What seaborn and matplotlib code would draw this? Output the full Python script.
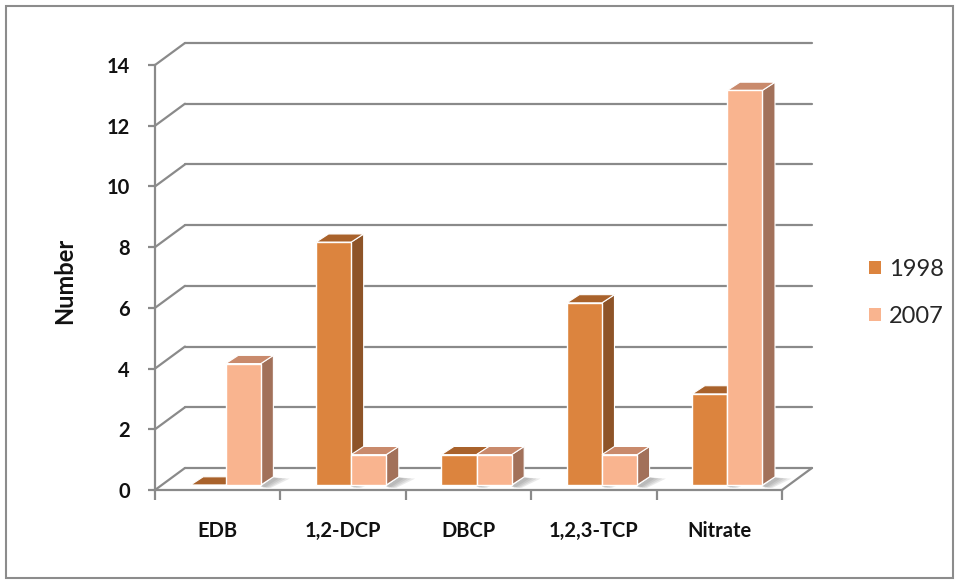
import matplotlib
matplotlib.use("Agg")
import matplotlib.pyplot as plt
import pandas as pd
import seaborn as sns
from matplotlib.patches import Polygon, Rectangle, Patch
from matplotlib.lines import Line2D

# Data
categories = ["EDB", "1,2-DCP", "DBCP", "1,2,3-TCP", "Nitrate"]
years = ["1998", "2007"]
counts_1998 = [0, 8, 1, 6, 3]
counts_2007 = [4, 1, 1, 1, 13]
y_ticks = [0, 2, 4, 6, 8, 10, 12, 14]

front_colors = {"1998": "#DC843E", "2007": "#F9B48F"}
side_colors = {"1998": "#8E5428", "2007": "#A2715A"}
top_colors = {"1998": "#A9622B", "2007": "#C98A6C"}
grid_color = "#8A8A8A"
text_color = "#111111"

df = pd.DataFrame({
    "Pollutant": categories * 2,
    "Year": ["1998"] * len(categories) + ["2007"] * len(categories),
    "Number": counts_1998 + counts_2007,
})

sns.set_theme(style="white")
plt.rcParams["font.family"] = ["Lato", "DejaVu Sans"]

fig = plt.figure(figsize=(9.6, 5.83), dpi=100)
ax = fig.add_axes([155 / 960, 93 / 583, 657 / 960, 447 / 583])

# 3D projection parameters (in data units)
wall_dx, wall_dy = 0.239, 0.726      # depth of the back wall
bar_dx, bar_dy = 0.10, 0.27          # depth of each column
shift_x, shift_y = 0.064, 0.165      # columns sit slightly behind the front edge

sns.barplot(data=df, x="Pollutant", y="Number", hue="Year", order=categories,
            hue_order=years, palette=front_colors, width=0.56, saturation=1,
            edgecolor="white", linewidth=1.0, legend=False, ax=ax)

n = len(categories)
ax.set_xlim(-0.5, n - 0.5 + wall_dx)
ax.set_ylim(0, y_ticks[-1] + wall_dy)

# Back wall gridlines and the diagonal links on the side wall
for v in y_ticks:
    ax.add_line(Line2D([-0.5 + wall_dx, n - 0.5 + wall_dx], [v + wall_dy, v + wall_dy],
                       color=grid_color, lw=1.6, zorder=0.5, clip_on=False))
    ax.add_line(Line2D([-0.5, -0.5 + wall_dx], [v, v + wall_dy],
                       color=grid_color, lw=1.6, zorder=0.5, clip_on=False))
# right edge of floor
ax.add_line(Line2D([n - 0.5, n - 0.5 + wall_dx], [0, wall_dy],
                   color=grid_color, lw=1.6, zorder=0.5, clip_on=False))

# Turn the flat bars into 3D columns
bars = list(ax.patches)
labels = [y for y in years for _ in categories]
order = sorted(range(len(bars)), key=lambda i: bars[i].get_x())
for rank, i in enumerate(order):
    p = bars[i]
    yr = labels[i]
    x0 = p.get_x() + shift_x
    w = p.get_width()
    h = p.get_height()
    p.set_x(x0)
    p.set_y(shift_y)
    x1 = x0 + w
    y0 = shift_y
    y1 = y0 + h
    z = 2 + rank * 0.01
    p.set_zorder(z + 0.003)
    p.set_clip_on(False)
    # soft floor shadow fading to the right of the column
    if h > 0:
        for reach in [0.13, 0.10, 0.07, 0.04]:
            ax.add_patch(Polygon([(x1, y0 - 0.04), (x1 + bar_dx, y0 + bar_dy - 0.02),
                                  (x1 + bar_dx + reach, y0 + bar_dy - 0.06),
                                  (x1 + reach * 0.6, y0 - 0.10)],
                                 closed=True, facecolor="#5a5a5a", edgecolor="none", alpha=0.12,
                                 zorder=1, clip_on=False))
    ax.add_patch(Polygon([(x1, y0), (x1 + bar_dx, y0 + bar_dy), (x1 + bar_dx, y1 + bar_dy), (x1, y1)],
                         closed=True, facecolor=side_colors[yr], edgecolor="white", lw=0.8,
                         zorder=z + 0.001, clip_on=False))
    ax.add_patch(Polygon([(x0, y1), (x1, y1), (x1 + bar_dx, y1 + bar_dy), (x0 + bar_dx, y1 + bar_dy)],
                         closed=True, facecolor=top_colors[yr], edgecolor="white", lw=0.8,
                         zorder=z + 0.002, clip_on=False))

# Axes styling
for s in ["top", "right"]:
    ax.spines[s].set_visible(False)
for s in ["left", "bottom"]:
    ax.spines[s].set_color(grid_color)
    ax.spines[s].set_linewidth(1.6)
ax.spines["left"].set_bounds(0, y_ticks[-1])
ax.spines["bottom"].set_bounds(-0.5, n - 0.5)

ax.set_yticks(y_ticks)
ax.set_yticklabels([str(v) for v in y_ticks], fontsize=14.5, fontweight="bold", color=text_color)
ax.tick_params(axis="y", direction="out", length=5, width=1.6, color=grid_color, pad=13, left=True)

ax.set_xticks([i - 0.5 for i in range(n + 1)])
ax.set_xticklabels([""] * (n + 1))
ax.set_xticks(list(range(n)), minor=True)
ax.set_xticklabels(categories, minor=True, fontsize=14.5, fontweight="bold", color=text_color)
ax.tick_params(axis="x", which="major", direction="out", length=7, width=1.6, color=grid_color, bottom=True)
ax.tick_params(axis="x", which="minor", length=0, pad=22, bottom=True)
ax.set_xlabel("")
ax.set_ylabel("")

fig.text(65 / 960, 1 - 281 / 583, "Number", rotation=90, ha="center", va="center",
         fontsize=17, fontweight="bold", color=text_color)

handles = [Patch(facecolor=front_colors[y], edgecolor="none") for y in years]
fig.legend(handles, years, loc="center left", bbox_to_anchor=(869 / 960, 1 - 293 / 583),
           frameon=False, fontsize=17, handlelength=0.5, handleheight=0.5,
           handletextpad=0.35, labelspacing=1.1, borderaxespad=0, borderpad=0)

fig.patches.append(Rectangle((6 / 960, 5 / 583), 947 / 960, 572 / 583, transform=fig.transFigure,
                             fill=False, edgecolor="#8C8C8C", lw=1.5))

fig.savefig("out.png", dpi=100)
